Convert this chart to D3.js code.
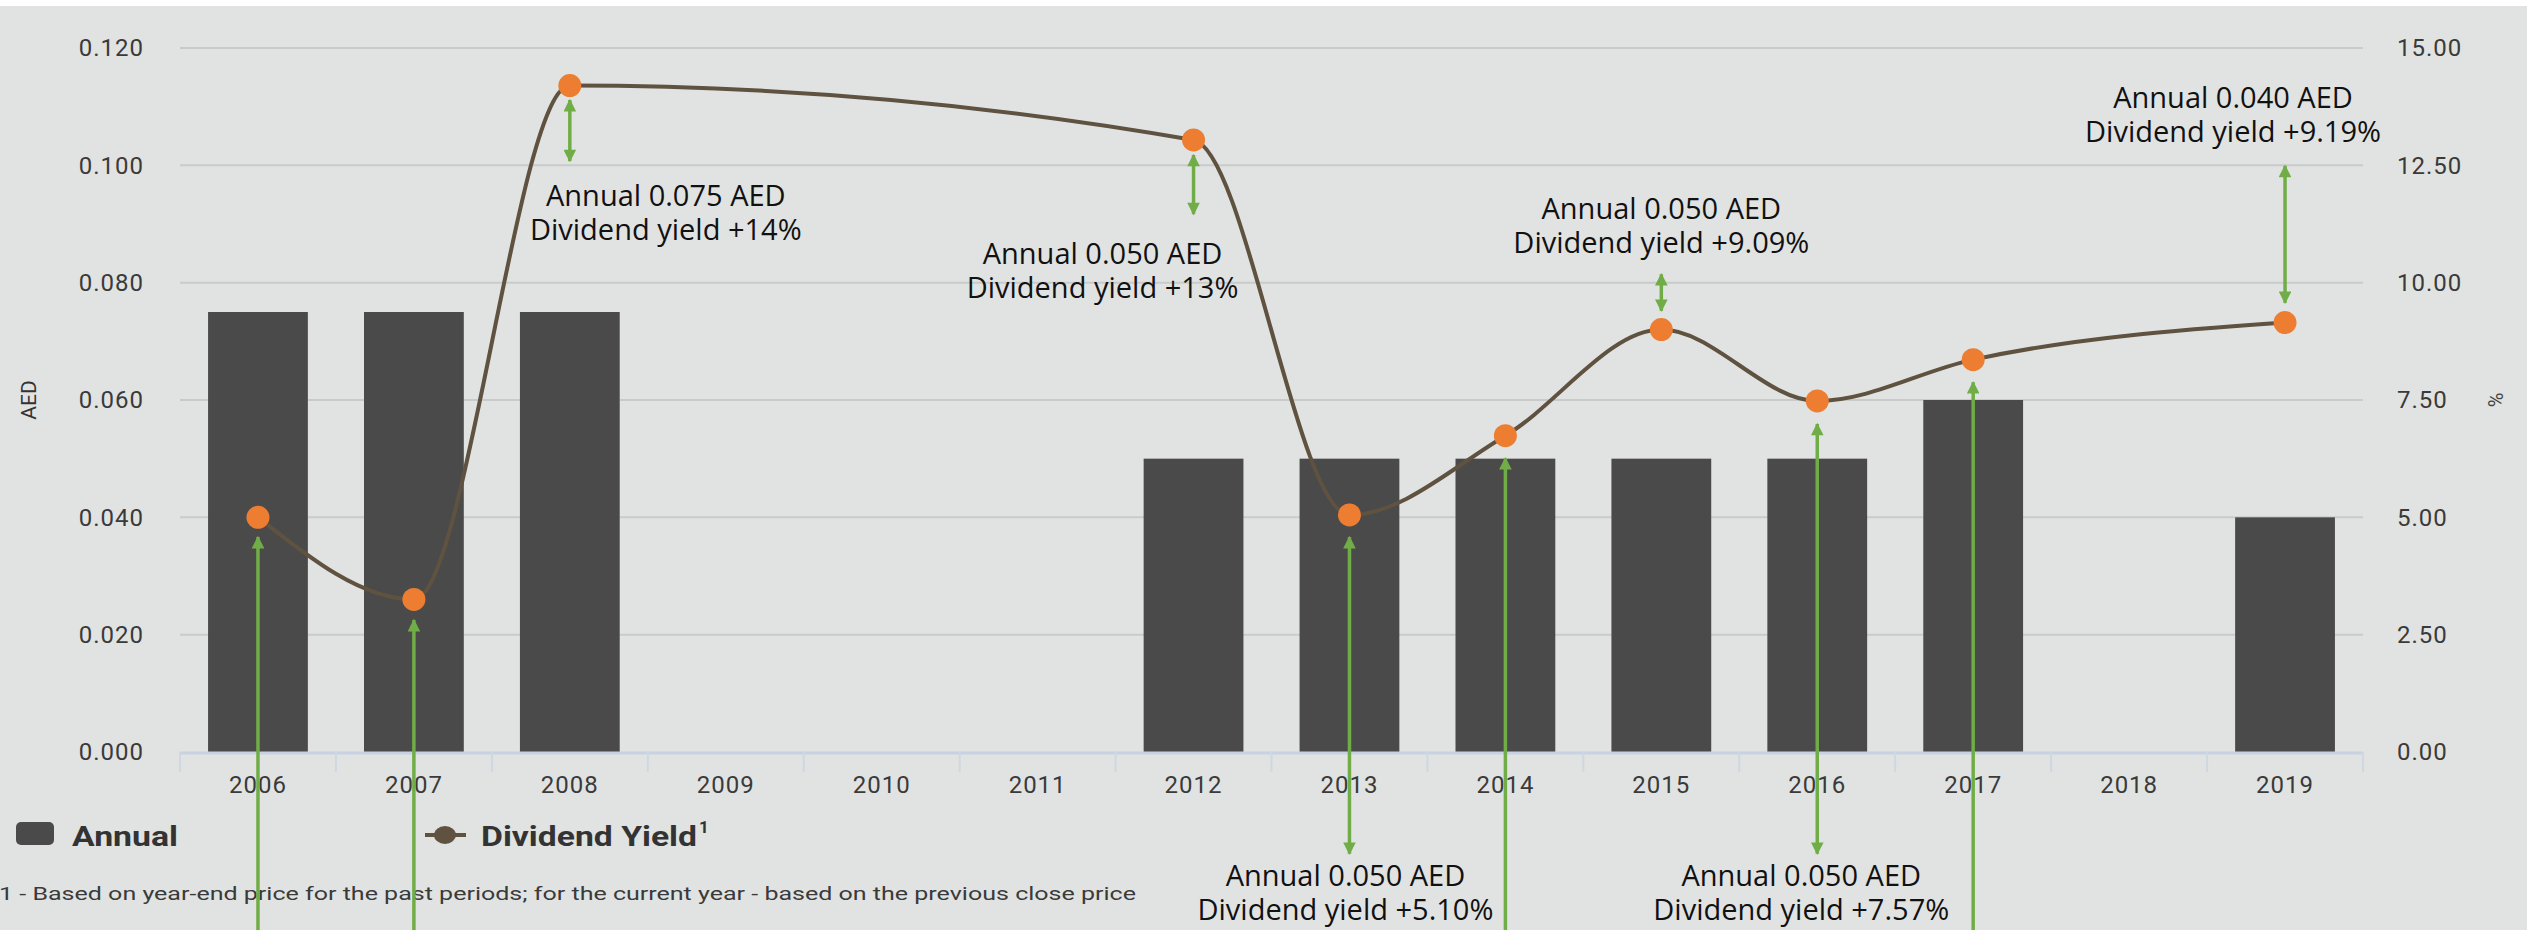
<!DOCTYPE html>
<html>
<head>
<meta charset="utf-8">
<script src="https://cdn.jsdelivr.net/npm/d3@7"></script>
<style>
  body { margin: 0; background: #ffffff; }
  svg { display: block; }
</style>
</head>
<body>
<svg width="2527" height="930"></svg>
<script>
var years = ["2006", "2007", "2008", "2009", "2010", "2011", "2012", "2013", "2014", "2015", "2016", "2017", "2018", "2019"];
var annual = [0.075, 0.075, 0.075, null, null, null, 0.050, 0.050, 0.050, 0.050, 0.050, 0.060, null, 0.040];
var yieldPct = [5.0, 3.25, 14.2, null, null, null, 13.04, 5.05, 6.74, 9.0, 7.48, 8.36, null, 9.15];
var leftTicks = [0, 0.02, 0.04, 0.06, 0.08, 0.10, 0.12];
var rightTicks = [0, 2.5, 5, 7.5, 10, 12.5, 15];

// green call-outs drawn over the picture (arrow ends in % units)
var noteYears = ["2008", "2012", "2015", "2019", "2013", "2016"];
var noteLine1 = ["Annual 0.075 AED", "Annual 0.050 AED", "Annual 0.050 AED", "Annual 0.040 AED", "Annual 0.050 AED", "Annual 0.050 AED"];
var noteLine2 = ["Dividend yield +14%", "Dividend yield +13%", "Dividend yield +9.09%", "Dividend yield +9.19%", "Dividend yield +5.10%", "Dividend yield +7.57%"];
var noteArrowFrom = [13.89, 12.72, 10.18, 12.49, 4.58, 6.99];
var noteArrowTo = [12.59, 11.46, 9.40, 9.57, -2.17, -2.17];
var noteTextAt = [11.63, 10.40, 11.36, 13.72, -2.86, -2.86];
var noteDx = [96, -91, 0, -52, -4, -16];

// arrows whose text is off the bottom of the picture
var looseYears = ["2006", "2007", "2014", "2017"];
var looseTip = [4.58, 2.81, 6.26, 7.88];

function main() {
    var svg = d3.select("svg"),
        left = 180, right = 2363, top = 48, bottom = 752;

    svg.append("rect")
       .attr("x", 0).attr("y", 6)
       .attr("width", 2527).attr("height", 924)
       .attr("fill", "#e1e3e2");

    var xScale = d3.scaleBand().domain(years).range([left, right]).paddingInner(0.36).paddingOuter(0.18),
        yLeft = d3.scaleLinear().domain([0, 0.12]).range([bottom, top]),
        yRight = d3.scaleLinear().domain([0, 15]).range([bottom, top]);

    function cx(yr) { return xScale(yr) + xScale.bandwidth() / 2; }

    var defs = svg.append("defs");
    defs.append("marker")
        .attr("id", "head")
        .attr("viewBox", "0 0 10 10")
        .attr("refX", 9).attr("refY", 5)
        .attr("markerWidth", 4.2).attr("markerHeight", 3.6)
        .attr("markerUnits", "strokeWidth")
        .attr("orient", "auto-start-reverse")
        .append("path")
        .attr("d", "M0,0 L10,5 L0,10 z")
        .attr("fill", "#70ad47");

    // grid lines
    svg.append("g")
       .selectAll("line")
       .data(leftTicks.slice(1))
       .enter().append("line")
       .attr("x1", left).attr("x2", right)
       .attr("y1", function(d) { return yLeft(d); })
       .attr("y2", function(d) { return yLeft(d); })
       .attr("stroke", "#c9cbca")
       .attr("stroke-width", 2);

    // left axis
    var gl = svg.append("g")
       .attr("transform", "translate(" + left + ",0)")
       .call(d3.axisLeft(yLeft).tickValues(leftTicks).tickFormat(d3.format(".3f")).tickSize(0).tickPadding(36));
    gl.select(".domain").remove();

    // right axis
    var gr = svg.append("g")
       .attr("transform", "translate(" + right + ",0)")
       .call(d3.axisRight(yRight).tickValues(rightTicks).tickFormat(d3.format(".2f")).tickSize(0).tickPadding(34));
    gr.select(".domain").remove();

    svg.selectAll(".tick text")
       .attr("font-family", "Roboto, sans-serif")
       .attr("font-size", "24px")
       .attr("letter-spacing", "1px")
       .attr("fill", "#3a3a3a");

    // bars
    svg.append("g")
       .selectAll("rect")
       .data(years.map(function(y, i) { return { year: y, value: annual[i] }; })
                  .filter(function(d) { return d.value != null; }))
       .enter().append("rect")
       .attr("x", function(d) { return xScale(d.year); })
       .attr("y", function(d) { return yLeft(d.value); })
       .attr("width", xScale.bandwidth())
       .attr("height", function(d) { return bottom - yLeft(d.value); })
       .attr("fill", "#4a4a4a");

    // bottom axis
    var gb = svg.append("g")
       .attr("transform", "translate(0," + bottom + ")")
       .call(d3.axisBottom(xScale).tickSize(0).tickPadding(24));
    gb.select(".domain").remove();
    gb.selectAll("text")
      .attr("font-family", "Roboto, sans-serif")
      .attr("font-size", "24px")
      .attr("letter-spacing", "1px")
      .attr("fill", "#3a3a3a");
    gb.append("line")
      .attr("x1", left).attr("x2", right)
      .attr("y1", 1).attr("y2", 1)
      .attr("stroke", "#c8d2e2").attr("stroke-width", 3);
    gb.selectAll(".sep")
      .data(d3.range(years.length + 1))
      .enter().append("line")
      .attr("class", "sep")
      .attr("x1", function(i) { return left + i * xScale.step(); })
      .attr("x2", function(i) { return left + i * xScale.step(); })
      .attr("y1", 0).attr("y2", 20)
      .attr("stroke", "#cfd7e3").attr("stroke-width", 2);

    // dividend yield line
    var pts = years.map(function(y, i) { return { year: y, value: yieldPct[i] }; })
                   .filter(function(d) { return d.value != null; });
    var line = d3.line()
       .x(function(d) { return cx(d.year); })
       .y(function(d) { return yRight(d.value); })
       .curve(d3.curveMonotoneX);
    svg.append("path")
       .datum(pts)
       .attr("d", line)
       .attr("fill", "none")
       .attr("stroke", "#5f5240")
       .attr("stroke-width", 4);

    svg.append("g")
       .selectAll("circle")
       .data(pts)
       .enter().append("circle")
       .attr("cx", function(d) { return cx(d.year); })
       .attr("cy", function(d) { return yRight(d.value); })
       .attr("r", 11.5)
       .attr("fill", "#ed7d31");

    // axis titles
    svg.append("text")
       .attr("transform", "translate(36,400) rotate(-90)")
       .attr("text-anchor", "middle")
       .attr("font-family", "Roboto, sans-serif")
       .attr("font-size", "21px")
       .attr("fill", "#333")
       .text("AED");
    svg.append("text")
       .attr("transform", "translate(2503,400) rotate(-90)")
       .attr("text-anchor", "middle")
       .attr("font-family", "Roboto, sans-serif")
       .attr("font-size", "20px")
       .attr("fill", "#444")
       .text("%");

    // legend
    var lg = svg.append("g").attr("font-family", "Roboto, sans-serif").attr("fill", "#333");
    lg.append("rect")
      .attr("x", 16).attr("y", 822).attr("width", 38).attr("height", 23).attr("rx", 5)
      .attr("fill", "#4a4a4a");
    lg.append("text")
      .attr("x", 72).attr("y", 846)
      .attr("font-size", "27px").attr("font-weight", "bold")
      .attr("textLength", 106).attr("lengthAdjust", "spacingAndGlyphs")
      .text("Annual");
    lg.append("line")
      .attr("x1", 425).attr("x2", 466).attr("y1", 835).attr("y2", 835)
      .attr("stroke", "#5f5240").attr("stroke-width", 4);
    lg.append("ellipse")
      .attr("cx", 445).attr("cy", 835).attr("rx", 11).attr("ry", 9)
      .attr("fill", "#5f5240");
    lg.append("text")
      .attr("x", 481).attr("y", 846)
      .attr("font-size", "27px").attr("font-weight", "bold")
      .attr("textLength", 216).attr("lengthAdjust", "spacingAndGlyphs")
      .text("Dividend Yield");
    lg.append("text")
      .attr("x", 699).attr("y", 833)
      .attr("font-size", "17px").attr("font-weight", "bold")
      .text("1");
    lg.append("text")
      .attr("x", -1).attr("y", 900)
      .attr("font-size", "19px").attr("fill", "#3a3a3a")
      .attr("textLength", 1137).attr("lengthAdjust", "spacingAndGlyphs")
      .text("1 - Based on year-end price for the past periods; for the current year - based on the previous close price");

    // call-outs
    var notes = svg.append("g")
       .attr("font-family", "'Liberation Sans Narrow', 'Open Sans', sans-serif")
       .attr("font-size", "29px")
       .attr("fill", "#111")
       .attr("text-anchor", "middle");
    noteYears.forEach(function(yr, i) {
        notes.append("line")
          .attr("x1", cx(yr)).attr("x2", cx(yr))
          .attr("y1", yRight(noteArrowFrom[i])).attr("y2", yRight(noteArrowTo[i]))
          .attr("stroke", "#70ad47").attr("stroke-width", 3.5)
          .attr("marker-start", "url(#head)")
          .attr("marker-end", "url(#head)");
        var t = yRight(noteTextAt[i]);
        notes.append("text").attr("x", cx(yr) + noteDx[i]).attr("y", t).text(noteLine1[i]);
        notes.append("text").attr("x", cx(yr) + noteDx[i]).attr("y", t + 34).text(noteLine2[i]);
    });
    looseYears.forEach(function(yr, i) {
        notes.append("line")
          .attr("x1", cx(yr)).attr("x2", cx(yr))
          .attr("y1", 940).attr("y2", yRight(looseTip[i]))
          .attr("stroke", "#70ad47").attr("stroke-width", 3.5)
          .attr("marker-end", "url(#head)");
    });
}
main();
</script>
</body>
</html>
